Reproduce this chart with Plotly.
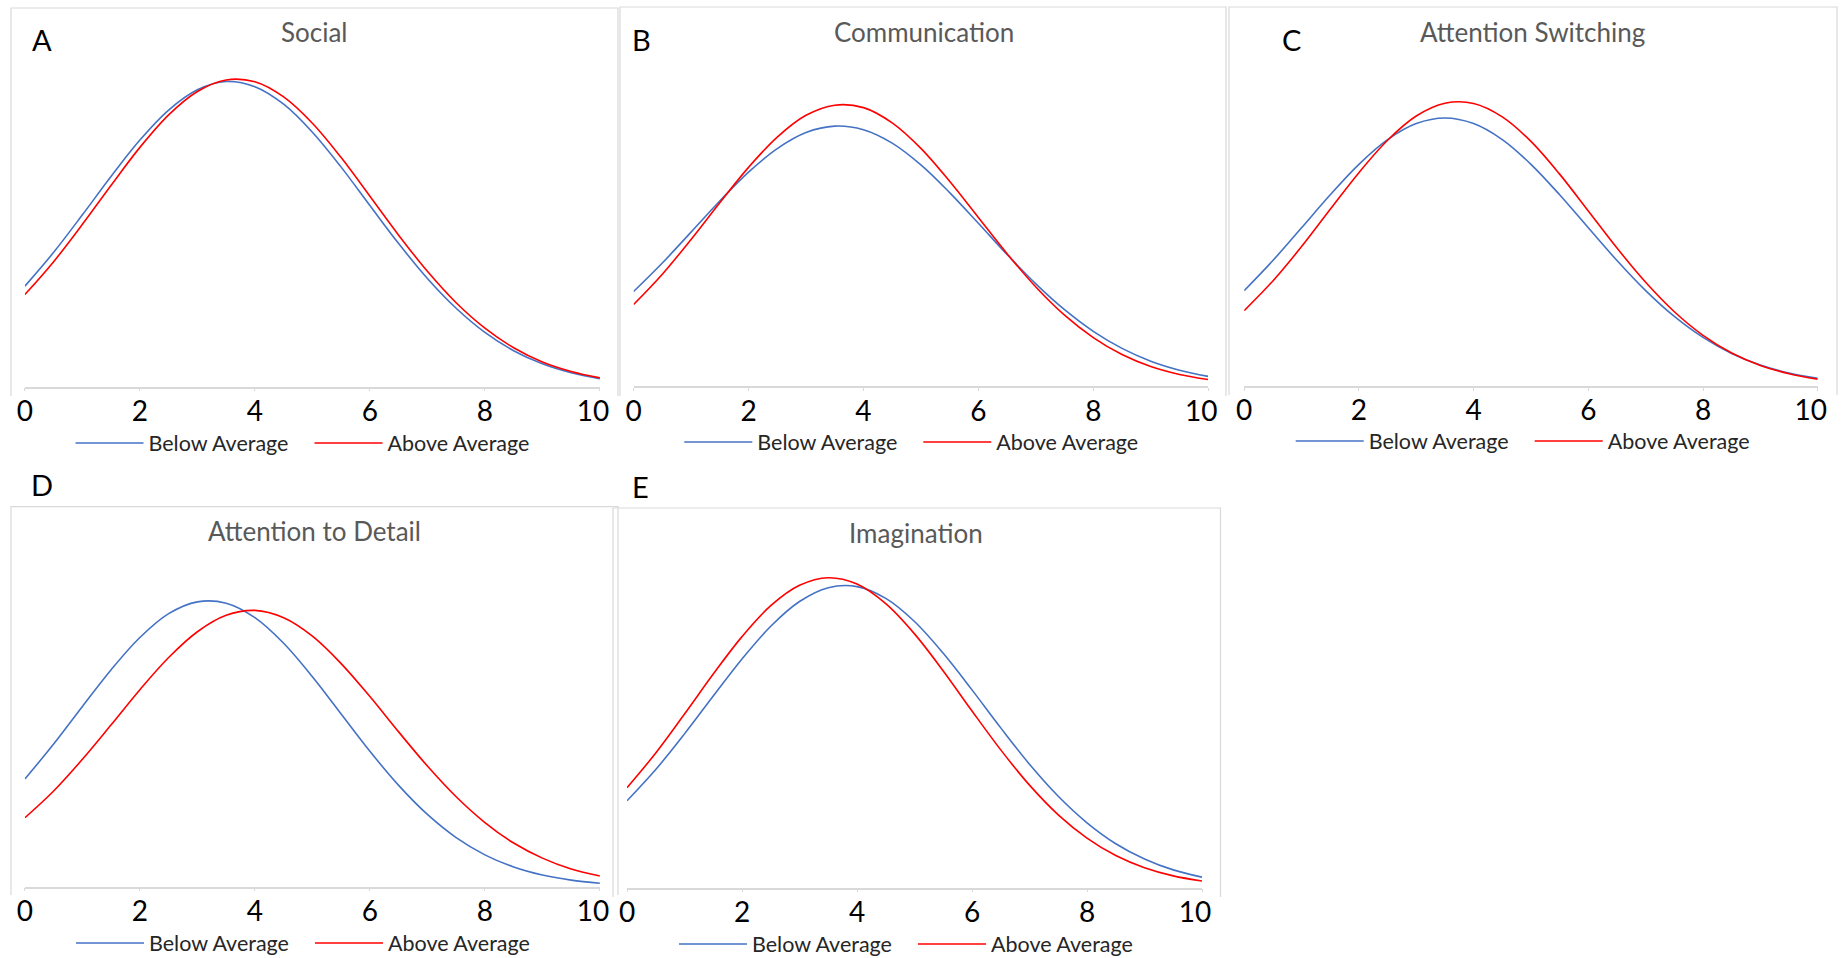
import plotly.graph_objects as go

# Score axis shared by every panel
scores = [0, 0.5, 1, 1.5, 2, 2.5, 3, 3.5, 4, 4.5, 5, 5.5, 6, 6.5, 7, 7.5, 8, 8.5, 9, 9.5, 10]
score_ticks = [0, 2, 4, 6, 8, 10]
# the last label is kept inside the panel edge
score_tick_text = ["0", "2", "4", "6", "8", "10\u2002"]

# Density curves per subscale (Below Average / Above Average groups)
social_below = [0.0550, 0.0735, 0.0940, 0.1151, 0.1349, 0.1513, 0.1624, 0.1669, 0.1641, 0.1545, 0.1392,
                0.1201, 0.0991, 0.0783, 0.0592, 0.0429, 0.0297, 0.0197, 0.0125, 0.0076, 0.0044]
social_above = [0.0504, 0.0684, 0.0888, 0.1102, 0.1309, 0.1487, 0.1615, 0.1678, 0.1668, 0.1585, 0.1441,
                0.1253, 0.1042, 0.0829, 0.0631, 0.0459, 0.0320, 0.0213, 0.0135, 0.0083, 0.0048]

communication_below = [0.0578, 0.0752, 0.0941, 0.1131, 0.1307, 0.1451, 0.1549, 0.1588, 0.1566, 0.1484, 0.1351,
                       0.1182, 0.0995, 0.0804, 0.0625, 0.0467, 0.0335, 0.0231, 0.0153, 0.0098, 0.0060]
communication_above = [0.0499, 0.0684, 0.0896, 0.1120, 0.1336, 0.1521, 0.1654, 0.1716, 0.1701, 0.1608, 0.1452,
                       0.1251, 0.1030, 0.0809, 0.0606, 0.0434, 0.0297, 0.0193, 0.0120, 0.0072, 0.0041]

switching_below = [0.0583, 0.0767, 0.0967, 0.1169, 0.1355, 0.1506, 0.1604, 0.1638, 0.1604, 0.1506, 0.1355,
                   0.1169, 0.0967, 0.0767, 0.0583, 0.0425, 0.0297, 0.0199, 0.0128, 0.0079, 0.0047]
switching_above = [0.0461, 0.0642, 0.0852, 0.1080, 0.1304, 0.1502, 0.1650, 0.1728, 0.1727, 0.1645, 0.1495,
                   0.1295, 0.1070, 0.0843, 0.0634, 0.0454, 0.0310, 0.0202, 0.0126, 0.0075, 0.0042]

detail_below = [0.0656, 0.0869, 0.1098, 0.1322, 0.1518, 0.1663, 0.1735, 0.1727, 0.1639, 0.1483, 0.1279,
                0.1052, 0.0825, 0.0617, 0.0440, 0.0299, 0.0194, 0.0120, 0.0071, 0.0040, 0.0021]
detail_above = [0.0420, 0.0583, 0.0776, 0.0986, 0.1200, 0.1396, 0.1553, 0.1653, 0.1683, 0.1638, 0.1526,
                0.1359, 0.1158, 0.0943, 0.0735, 0.0548, 0.0391, 0.0266, 0.0174, 0.0108, 0.0065]

imagination_below = [0.0478, 0.0650, 0.0846, 0.1054, 0.1258, 0.1438, 0.1574, 0.1650, 0.1656, 0.1591, 0.1464,
                     0.1289, 0.1088, 0.0879, 0.0679, 0.0503, 0.0357, 0.0242, 0.0158, 0.0098, 0.0058]
imagination_above = [0.0550, 0.0741, 0.0955, 0.1175, 0.1381, 0.1551, 0.1663, 0.1705, 0.1670, 0.1562, 0.1396,
                     0.1192, 0.0972, 0.0758, 0.0564, 0.0401, 0.0273, 0.0177, 0.0110, 0.0065, 0.0037]

panel_letters = ["A", "B", "C", "D", "E"]
panel_titles = ["Social", "Communication", "Attention Switching", "Attention to Detail", "Imagination"]
series_names = ["Below Average", "Above Average"]
panel_series = [
    (social_below, social_above),
    (communication_below, communication_above),
    (switching_below, switching_above),
    (detail_below, detail_above),
    (imagination_below, imagination_above),
]

# ---- page geometry (pixels) ----
W, H = 1846, 958
FONT = "Lato, 'Open Sans', sans-serif"
BLUE = "#4472C4"
RED = "#FF0000"
FRAME = "#D9D9D9"
PLOT_H = 330

layout_px = [
    # plot x0, x1, axis baseline y, y max, frame (l, t, r, b), letter xy, title xy, legend text start, legend y
    dict(x0=24.9, x1=599.9, base=386.7, ymax=0.1805, frame=(11, 8, 618, 396),
         letter=(41.5, 39), title=(314.4, 32.3), leg=(149.5, 443)),
    dict(x0=633.6, x1=1208.2, base=386.2, ymax=0.2015, frame=(620, 7, 1226, 396),
         letter=(641.6, 39), title=(923.6, 32.3), leg=(758.3, 442)),
    dict(x0=1244.2, x1=1817.7, base=386.0, ymax=0.2017, frame=(1229, 7, 1837, 395),
         letter=(1291.9, 39), title=(1532.6, 32.0), leg=(1369.7, 441)),
    dict(x0=24.9, x1=599.9, base=886.7, ymax=0.2010, frame=(11, 506.7, 618, 895),
         letter=(41.5, 485), title=(314.3, 531), leg=(150.0, 943)),
    dict(x0=627.0, x1=1202.0, base=887.7, ymax=0.1815, frame=(613, 508, 1220.5, 897),
         letter=(640.8, 486), title=(916.3, 533.3), leg=(753.0, 944)),
]

ITEM_W = 68          # legend line sample width
TEXT_OFFSET = ITEM_W + 10 + 1
ENTRY_STEP = 239


def fx(p):
    return p / W


def fy(p):
    return 1 - p / H


fig = go.Figure()
annotations = []
shapes = []
layout_extra = {}

for i, (letter, title, (below, above), g) in enumerate(
        zip(panel_letters, panel_titles, panel_series, layout_px)):
    n = "" if i == 0 else str(i + 1)
    xa, ya = "x" + n, "y" + n
    leg_key = "legend" + n

    for name, vals, color in ((series_names[0], below, BLUE), (series_names[1], above, RED)):
        fig.add_trace(go.Scatter(
            x=scores, y=vals, name=name, mode="lines",
            line=dict(color=color, width=1.6, shape="spline", smoothing=1.0),
            xaxis=xa, yaxis=ya, legend=leg_key, hoverinfo="skip"))

    layout_extra["xaxis" + n] = dict(
        domain=[fx(g["x0"]), fx(g["x1"])], anchor=ya, range=[0, 10],
        tickvals=score_ticks, ticktext=score_tick_text,
        ticks="outside", ticklen=3, tickcolor=FRAME, tickwidth=1.2, ticklabelstandoff=-4,
        showline=True, linecolor=FRAME, linewidth=1.5, showgrid=False, zeroline=False,
        tickfont=dict(family=FONT, size=28, color="#000000"), fixedrange=True, automargin=False)
    layout_extra["yaxis" + n] = dict(
        domain=[fy(g["base"]), fy(g["base"] - PLOT_H)], anchor=xa, range=[0, g["ymax"]],
        visible=False, fixedrange=True, automargin=False)

    layout_extra[leg_key] = dict(
        orientation="h", x=fx(g["leg"][0] - TEXT_OFFSET), y=fy(g["leg"][1]),
        xanchor="left", yanchor="middle", xref="paper", yref="paper",
        itemwidth=ITEM_W, entrywidth=ENTRY_STEP - (ITEM_W + 10) - 5, entrywidthmode="pixels",
        bgcolor="rgba(0,0,0,0)", borderwidth=0,
        font=dict(family=FONT, size=21.5, color="#262626"))

    l, t, r, b = g["frame"]
    shapes.append(dict(
        type="path", xref="paper", yref="paper",
        path=f"M {fx(l)},{fy(b)} L {fx(l)},{fy(t)} L {fx(r)},{fy(t)} L {fx(r)},{fy(b)}",
        line=dict(color=FRAME, width=1.2)))

    annotations.append(dict(
        text=title, x=fx(g["title"][0]), y=fy(g["title"][1]), xref="paper", yref="paper",
        xanchor="center", yanchor="middle", showarrow=False,
        font=dict(family=FONT, size=26, color="#595959")))
    annotations.append(dict(
        text=letter, x=fx(g["letter"][0]), y=fy(g["letter"][1]), xref="paper", yref="paper",
        xanchor="center", yanchor="middle", showarrow=False,
        font=dict(family=FONT, size=29, color="#000000")))

fig.update_layout(
    width=W, height=H, margin=dict(l=0, r=0, t=0, b=0, autoexpand=False),
    paper_bgcolor="white", plot_bgcolor="rgba(0,0,0,0)",
    showlegend=True, annotations=annotations, shapes=shapes,
    **layout_extra)

fig.write_html("out.html", config={"displayModeBar": False})
